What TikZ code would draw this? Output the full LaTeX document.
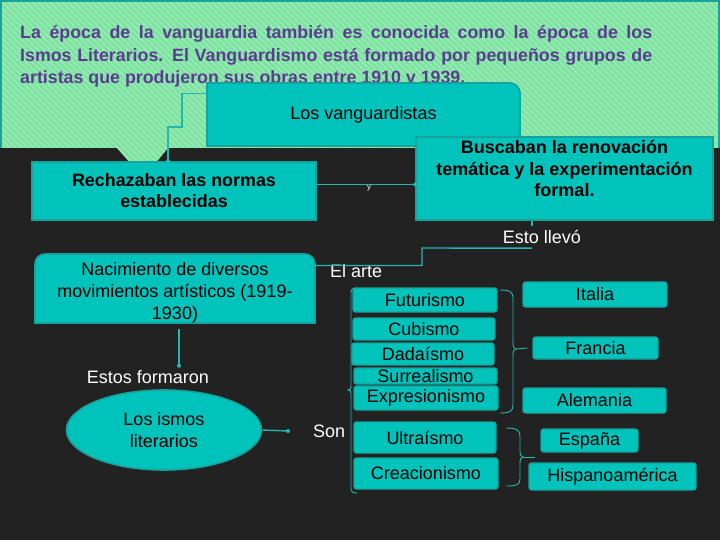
\documentclass[tikz,border=0pt]{standalone}
\usepackage{fontspec}
\setmainfont{Liberation Sans}
\usetikzlibrary{shapes.geometric}
\definecolor{bgdark}{HTML}{222222}
\definecolor{greenbg}{HTML}{7DE2A0}
\definecolor{greenstripe}{HTML}{97EBB6}
\definecolor{tealfill}{HTML}{00C4BC}
\definecolor{tealedge}{HTML}{17A39C}
\definecolor{tealline}{HTML}{22B8B0}
\definecolor{titlepurple}{HTML}{5B3D8F}
\tikzset{
 box/.style={draw=tealedge, line width=1.6pt, fill=tealfill, text=black, inner sep=0pt, align=center, font=\fontsize{18}{21.5}\selectfont},
 boldbox/.style={box, font=\bfseries\fontsize{17.9}{21}\selectfont},
 ismbox/.style={box, rounded corners=2.5pt, line width=1.2pt},
 plaintext/.style={inner sep=0pt, text=black, align=center, font=\fontsize{18}{22}\selectfont},
 lbl/.style={text=white, inner sep=0pt, font=\fontsize{18}{21}\selectfont},
 conn/.style={draw=tealline, line width=1.4pt},
 brace/.style={draw=tealline, line width=0.9pt},
 titleline/.style={anchor=base west, inner sep=0pt, text=titlepurple, font=\bfseries\fontsize{17.8}{22}\selectfont},
}
\begin{document}
\begin{tikzpicture}[x=1pt,y=-1pt]
\useasboundingbox (0,0) rectangle (720,540);
\fill[bgdark] (0,0) rectangle (720,540);
% green header with pointer
\begin{scope}
\clip (0,0) -- (720,0) -- (720,148) -- (168,148) -- (143,178) -- (117,148) -- (0,148) -- cycle;
\fill[greenbg] (0,0) rectangle (720,180);
\foreach \i in {-180,-174,...,720} \draw[greenstripe, line width=1.7pt] (\i,0) -- ++(180,180);
\end{scope}
\draw[tealedge, line width=2pt] (1,148) -- (1,1) -- (719,1) -- (719,148);
% title
\node[titleline] (t1) at (20,39) {\makebox[632pt][s]{La época de la vanguardia también es conocida como la época de los}};
\node[titleline] (t2) at (20,61.5) {\makebox[632pt][s]{Ismos Literarios. El Vanguardismo está formado por pequeños grupos de}};
\node[titleline] (t3) at (20,84) {artistas que produjeron sus obras entre 1910 y 1939.};
% Los vanguardistas
\filldraw[fill=tealfill, draw=tealedge, line width=1.6pt] (207,146) -- (207,83) -- (510,83) .. controls (515.5,83) and (520,87.5) .. (520,93) -- (520,146) -- cycle;
\node[plaintext, minimum width=313pt, minimum height=63pt] (vang) at (363.5,114.5) {Los vanguardistas};
% Rechazaban
\node[boldbox, minimum width=284pt, minimum height=58pt] (rech) at (174,191) {Rechazaban las normas\\establecidas};
% Buscaban
\node[boldbox, minimum width=297pt, minimum height=83pt] (busc) at (564.5,178.5) {};
\node[plaintext, font=\bfseries\fontsize{18}{21.5}\selectfont] (busctext) at (564.5,168.5) {Buscaban la renovación\\temática y la experimentación\\formal.};
% Nacimiento
\filldraw[fill=tealfill, draw=tealedge, line width=1.6pt] (35,323) -- (35,264) .. controls (35,258.5) and (39.5,254) .. (45,254) -- (305,254) .. controls (310.5,254) and (315,258.5) .. (315,264) -- (315,323) -- cycle;
\node[plaintext, minimum width=280pt, minimum height=69pt] (nac) at (175,288.5) {};
\node[plaintext] (nactext) at (175,293) {Nacimiento de diversos\\movimientos artísticos (1919-\\1930)};
% ellipse
\node[box, ellipse, minimum width=195pt, minimum height=80pt] (ismos) at (164,430) {Los ismos\\literarios};
% labels
\node[lbl, font=\fontsize{8}{9}\selectfont] (ylbl) at (369,188) {y};
\node[lbl, minimum height=22pt] (esto) at (542,237) {Esto llevó};
\node[lbl, anchor=west] (elarte) at (330,271) {El arte};
\node[lbl, minimum height=22pt] (estos) at (148,377) {Estos formaron};
\node[lbl, anchor=west] (son) at (313,431) {Son};
% left brace
\draw[brace] (356,288) .. controls (352.5,288) and (351,289) .. (351,292) -- (351,386) .. controls (351,389) and (350,390) .. (348,390) .. controls (350,390) and (351,391) .. (351,394) -- (351,489) .. controls (351,492) and (352.5,493) .. (357,493);
% isms
\node[ismbox, minimum width=144pt, minimum height=24pt] (fut) at (425,300) {Futurismo};
\node[ismbox, minimum width=142pt, minimum height=22pt] (cub) at (424,329) {Cubismo};
\node[ismbox, minimum width=142pt, minimum height=22pt] (dada) at (423,354) {Dadaísmo};
\node[ismbox, minimum width=143pt, minimum height=16pt] (surr) at (425.5,376) {Surrealismo};
\node[ismbox, minimum width=144pt, minimum height=24pt] (expr) at (426,398) {Expresionismo};
\node[ismbox, minimum width=142pt, minimum height=31pt] (ultra) at (425,437.5) {Ultraísmo};
\node[ismbox, minimum width=144pt, minimum height=31pt] (crea) at (426,473.5) {Creacionismo};
% countries
\node[ismbox, minimum width=144pt, minimum height=25pt] (ital) at (595,294.5) {Italia};
\node[ismbox, minimum width=125pt, minimum height=22pt] (fran) at (595.5,348) {Francia};
\node[ismbox, minimum width=143pt, minimum height=25pt] (alem) at (594.5,400.5) {Alemania};
\node[ismbox, minimum width=97pt, minimum height=23pt] (esp) at (589.5,440.5) {España};
\node[ismbox, minimum width=167pt, minimum height=27pt] (hisp) at (612.5,476.5) {Hispanoamérica};
% right braces
\draw[brace] (500,290) .. controls (510,290) and (513,292) .. (513,298) -- (513,342) .. controls (513,347) and (514,349) .. (516,349) .. controls (514,349) and (513,351) .. (513,356) -- (513,405) .. controls (513,411) and (510,413) .. (500,413);
\draw[brace] (516,349) -- ([xshift=-5pt]fran.west);
\coordinate (b2tip) at (535,457);
\draw[brace] (506,428) .. controls (516,428) and (520,430) .. (520,436) -- (520,451) .. controls (520,455) and (521,457) .. (523,457) .. controls (521,457) and (520,459) .. (520,463) -- (520,479) .. controls (520,485) and (516,486) .. (506,486);
\draw[brace] (523,457) -- (b2tip);
% connectors
\draw[conn] ([yshift=-11pt]vang.north west) -| (182,127) -| ([xshift=-6pt]rech.north);
\fill[tealline] ([xshift=-6pt]rech.north) circle[radius=2pt];
\draw[conn] ([yshift=6.5pt]rech.east) -- ([yshift=-6pt]busc.west);
\fill[tealline] ([yshift=-6pt]busc.west) circle[radius=2pt];
\draw[conn] ([xshift=-32.5pt]busc.south) -- ([xshift=-10pt]esto.north);
\draw[conn] ([xshift=-10pt]esto.south) -- (422,248) -- (422,265.5) -- ([yshift=23pt]nac.east);
\coordinate (nacdn) at ([xshift=4pt,yshift=-6pt]nac.south);
\draw[conn] (nacdn) -- (nacdn |- estos.north);
\fill[tealline] (nacdn |- estos.north) circle[radius=2pt];
\draw[conn] (ismos.east) -- ([xshift=-25pt]son.west);
\fill[tealline] ([xshift=-25pt]son.west) circle[radius=2pt];
\end{tikzpicture}
\end{document}
